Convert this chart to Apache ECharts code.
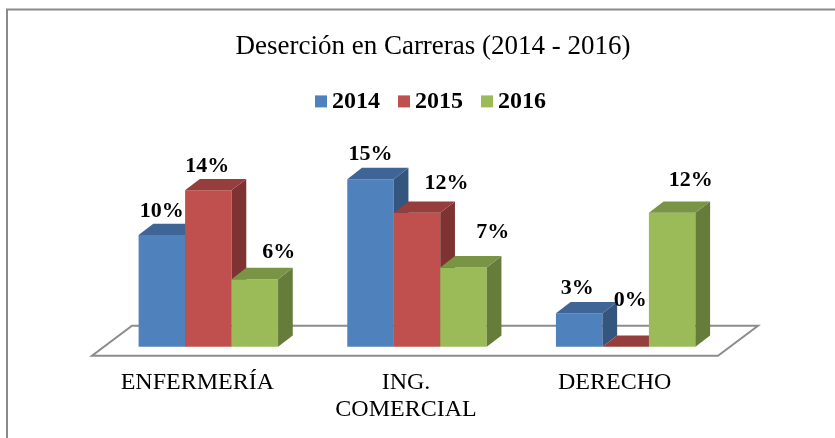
<!DOCTYPE html>
<html>
<head>
<meta charset="utf-8">
<script src="https://cdn.jsdelivr.net/npm/echarts@6/dist/echarts.min.js"></script>
<style>
  html, body { margin: 0; padding: 0; background: #fff; }
  #chart { width: 835px; height: 438px; }
</style>
</head>
<body>
<div id="chart"></div>
<script>
// ---- data ----
const categories = ['ENFERMERÍA', 'ING. COMERCIAL', 'DERECHO'];
const years = ['2014', '2015', '2016'];
const values2014 = [10, 15, 3];
const values2015 = [14, 12, 0];
const values2016 = [6.05, 7.1, 12];
const titleText = 'Deserción en Carreras (2014 - 2016)';

// ---- styles ----
const FONT = 'Liberation Serif';
const faceColors = [
  { front: '#4F81BD', top: '#3E6595', side: '#34557E' },
  { front: '#C0504D', top: '#963E3C', side: '#7E3231' },
  { front: '#9BBB59', top: '#7A9446', side: '#667C3A' }
];
const BAR_FRAC = 0.2228;   // bar width as a fraction of the category band
const DX = 14.7, DY = -11.3; // bar depth projection
// label nudges [dx, baseline dy] relative to front-face centre / top
const labelNudge = [
  [[0, -16.7], [0, -17], [-2, -17.3]],
  [[-1, -16.3], [29.6, -22], [4.5, -38.7]],
  [[24, -19], [29.2, -27.3], [18.5, -25.4]]
];

function barRenderer(s) {
  return function (params, api) {
    const ci = api.value(0);
    const v = api.value(1);
    const base = api.coord([ci, 0]);
    const top = api.coord([ci, v]);
    const band = api.size([1, 0])[0];
    const bw = band * BAR_FRAC;
    const x0 = base[0] + (s - 1.5) * bw;
    const x1 = x0 + bw;
    const yb = base[1];
    const yt = top[1];
    const c = faceColors[s];
    const children = [];
    if (yb - yt > 0.5) {
      children.push({
        type: 'rect',
        shape: { x: x0, y: yt, width: bw, height: yb - yt },
        style: { fill: c.front }
      });
      children.push({
        type: 'polygon',
        shape: { points: [[x1, yt], [x1 + DX, yt + DY], [x1 + DX, yb + DY], [x1, yb]] },
        style: { fill: c.side }
      });
    }
    children.push({
      type: 'polygon',
      shape: { points: [[x0, yt], [x1, yt], [x1 + DX, yt + DY], [x0 + DX, yt + DY]] },
      style: { fill: c.top }
    });
    const n = labelNudge[s][ci];
    children.push({
      type: 'text',
      z2: 100,
      style: {
        x: (x0 + x1) / 2 + n[0],
        y: yt + n[1] - 7.4,
        text: Math.round(v) + '%',
        font: 'bold 22px "' + FONT + '"',
        fill: '#000',
        align: 'center',
        verticalAlign: 'middle'
      }
    });
    return { type: 'group', children: children };
  };
}

function floorRenderer(params, api) {
  const cs = params.coordSys;
  const yb = cs.y + cs.height;
  const xl = cs.x, xr = cs.x + cs.width;
  const fY = yb + 9, bY = yb - 21;
  const fX = -12, bX = 28;
  return {
    type: 'polygon',
    shape: { points: [[xl + fX, fY], [xr + fX, fY], [xr + bX, bY], [xl + bX, bY]] },
    style: { fill: '#fff', stroke: '#8C8C8C', lineWidth: 2 }
  };
}

const allValues = [values2014, values2015, values2016];
const series = [{
  type: 'custom',
  name: 'floor',
  z: 1,
  silent: true,
  renderItem: floorRenderer,
  data: [[0, 0]]
}];
years.forEach(function (y, s) {
  series.push({
    type: 'custom',
    name: y,
    z: 2,
    itemStyle: { color: faceColors[s].front },
    renderItem: barRenderer(s),
    encode: { x: 0, y: 1 },
    data: allValues[s].map(function (v, i) { return [i, v]; })
  });
});

const chart = echarts.init(document.getElementById('chart'), null, { renderer: 'canvas' });
chart.setOption({
  animation: false,
  backgroundColor: '#fff',
  title: {
    text: titleText,
    left: 433,
    top: 32,
    padding: 0,
    textAlign: 'center',
    textStyle: { fontFamily: FONT, fontSize: 27, fontWeight: 'normal', color: '#000', lineHeight: 30 }
  },
  legend: {
    data: years,
    left: 315,
    top: 89.4,
    padding: 0,
    icon: 'rect',
    itemWidth: 12,
    itemHeight: 12,
    itemGap: 18,
    textStyle: { fontFamily: FONT, fontSize: 24, fontWeight: 'bold', color: '#000', lineHeight: 24 }
  },
  grid: { left: 104, right: 105, top: 168, bottom: 91.3 },
  xAxis: {
    type: 'category',
    data: categories,
    axisLine: { show: false },
    axisTick: { show: false },
    splitLine: { show: false },
    axisLabel: {
      interval: 0,
      margin: 23,
      padding: [0, 22, 0, 0],
      fontFamily: FONT,
      fontSize: 24,
      lineHeight: 27,
      color: '#000',
      formatter: function (v) { return v.replace('. ', '.\n'); }
    }
  },
  yAxis: {
    type: 'value',
    min: 0,
    max: 16,
    show: false
  },
  graphic: [{
    type: 'polyline',
    shape: { points: [[7, 445], [7, 9.5], [845, 9.5]] },
    style: { stroke: '#8A8A8A', lineWidth: 2, fill: null },
    silent: true
  }],
  series: series
});
</script>
</body>
</html>
